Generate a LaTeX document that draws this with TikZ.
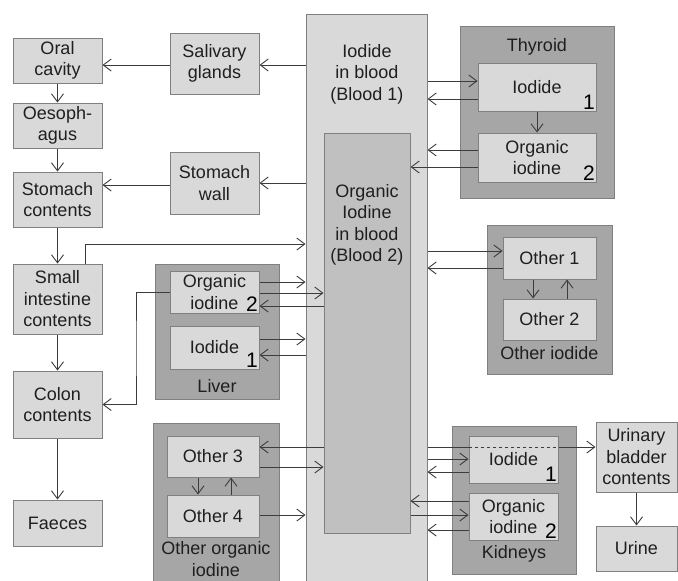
\documentclass[tikz,border=0pt]{standalone}
\usepackage{fontspec}
\setmainfont{Liberation Sans}
\usepackage{tikz}
\usetikzlibrary{calc,arrows.meta}
\definecolor{boxlight}{RGB}{217, 217, 217}
\definecolor{boxmid}{RGB}{192, 192, 192}
\definecolor{boxdark}{RGB}{166, 166, 166}
\definecolor{edgegray}{RGB}{128, 128, 128}
\definecolor{linegray}{RGB}{60, 60, 60}

\begin{document}
\begin{tikzpicture}[x=1pt,y=-1pt,
  box/.style={draw=edgegray, fill=boxlight, line width=1pt, align=center, inner sep=0pt,
    text=black!88, font=\fontsize{18}{21.5}\selectfont},
  group/.style={draw=edgegray, fill=boxdark, line width=1pt, inner sep=0pt},
  lbl/.style={align=center, inner sep=0pt, text=black!88, font=\fontsize{18}{21.5}\selectfont},
  num/.style={anchor=south east, inner sep=1.5pt, text=black, font=\fontsize{21}{21}\selectfont},
  arr/.style={draw=linegray, line width=0.9pt, -{Straight Barb[length=8pt,width=12pt]}},
  link/.style={draw=linegray, line width=0.9pt}]
\clip (0,0) rectangle (678,581);

% Group boxes
\node[group, minimum width=154, minimum height=172] (thyroid) at (537,112) {};
\node[lbl] (thyroidtxt) at (537,47) {Thyroid};

\node[group, minimum width=125, minimum height=149] (othiod) at (549.5,299.5) {};
\node[lbl] (othiodtxt) at (549.5,353) {Other iodide};

\node[group, minimum width=124, minimum height=135] (liver) at (217,331.5) {};
\node[lbl] (livertxt) at (217,386) {Liver};

\node[group, minimum width=126, minimum height=172] (othorg) at (216,509) {};
\node[lbl] (othorgtxt) at (216,559) {Other organic\\iodine};

\node[group, minimum width=124, minimum height=148] (kidneys) at (514,500) {};
\node[lbl] (kidneystxt) at (514,554) {Kidneys};

% Blood
\node[box, minimum width=121, minimum height=581] (blood1) at (366.5,304.5) {};
\node[lbl] (blood1txt) at (367,74) {Iodide\\in blood\\(Blood 1)};
\node[box, fill=boxmid, minimum width=86, minimum height=400] (blood2) at (367,333) {};
\node[lbl] (blood2txt) at (367,225) {Organic\\Iodine\\in blood\\(Blood 2)};

% Gut
\node[box, minimum width=89, minimum height=45] (oral) at (57.5,60.5) {Oral\\cavity};
\node[box, minimum width=89, minimum height=45] (oeso) at (57.5,125.5) {Oesoph-\\agus};
\node[box, minimum width=89, minimum height=55] (stomc) at (57.5,199.5) {Stomach\\contents};
\node[box, minimum width=89, minimum height=70] (smallint) at (57.5,299) {Small\\intestine\\contents};
\node[box, minimum width=89, minimum height=67] (colon) at (57.5,404.5) {Colon\\contents};
\node[box, minimum width=89, minimum height=46] (faeces) at (57.5,523) {Faeces};
\node[box, minimum width=89, minimum height=61] (saliv) at (214.5,63.5) {Salivary\\glands};
\node[box, minimum width=89, minimum height=62] (stomw) at (214.5,183) {Stomach\\wall};

% Organs
\node[box, minimum width=118, minimum height=48] (thyiod) at (537,87) {Iodide};
\node[num] (thyiodn) at (thyiod.south east) {1};
\node[box, minimum width=118, minimum height=49] (thyorg) at (537,157.5) {Organic\\iodine};
\node[num] (thyorgn) at (thyorg.south east) {2};

\node[box, minimum width=93, minimum height=42] (oth1) at (549.5,258) {Other 1};
\node[box, minimum width=93, minimum height=41] (oth2) at (549.5,319.5) {Other 2};

\node[box, minimum width=89, minimum height=42] (livorg) at (214.5,292) {Organic\\iodine};
\node[num] (livorgn) at (livorg.south east) {2};
\node[box, minimum width=89, minimum height=43] (liviod) at (214.5,347.5) {Iodide};
\node[num] (liviodn) at (liviod.south east) {1};

\node[box, minimum width=92, minimum height=41] (oth3) at (213,456.5) {Other 3};
\node[box, minimum width=92, minimum height=42] (oth4) at (213,516) {Other 4};

\node[box, minimum width=89, minimum height=47] (kidiod) at (513.5,459.5) {Iodide};
\node[num] (kidiodn) at (kidiod.south east) {1};
\node[box, minimum width=89, minimum height=47] (kidorg) at (513.5,516.5) {Organic\\iodine};
\node[num] (kidorgn) at (kidorg.south east) {2};

% Urine
\node[box, minimum width=81, minimum height=70] (bladder) at (636.5,457) {Urinary\\bladder\\contents};
\node[box, minimum width=81, minimum height=45] (urine) at (636.5,548.5) {Urine};

% Gut flows
\draw[arr] (blood1.west |- 0,65) -- (saliv.east |- 0,65);
\draw[arr] (saliv.west |- 0,65) -- (oral.east |- 0,65);
\draw[arr] (oral.south) -- (oeso.north);
\draw[arr] (oeso.south) -- (stomc.north);
\draw[arr] (blood1.west |- 0,183) -- (stomw.east |- 0,183);
\draw[arr] (stomw.west |- 0,185) -- (stomc.east |- 0,185);
\draw[arr] (stomc.south) -- (smallint.north);
\draw[arr] (smallint.north -| 85,0) |- (blood1.west |- 0,244);
\draw[arr] (smallint.south) -- (colon.north);
\draw[arr] (colon.south) -- (faeces.north);
\draw[arr] (livorg.west) -| ($(livorg.west)!0.5!(colon.east)$) |- (colon.east);

% Thyroid
\draw[arr] (blood1.east |- 0,81) -- (thyiod.west |- 0,81);
\draw[arr] (thyiod.west |- 0,99) -- (blood1.east |- 0,99);
\draw[arr] (thyiod.south) -- (thyorg.north);
\draw[arr] (thyorg.west |- 0,150) -- (blood1.east |- 0,150);
\draw[arr] (thyorg.west |- 0,167) -- (blood2.east |- 0,167);

% Other iodide
\draw[arr] (blood1.east |- 0,251) -- (oth1.west |- 0,251);
\draw[arr] (oth1.west |- 0,268) -- (blood1.east |- 0,268);
\draw[arr] (oth1.south -| 533,0) -- (oth2.north -| 533,0);
\draw[arr] (oth2.north -| 567,0) -- (oth1.south -| 567,0);

% Liver
\draw[arr] (livorg.east |- 0,282) -- (blood1.west |- 0,282);
\draw[arr] (livorg.east |- 0,293) -- (blood2.west |- 0,293);
\draw[arr] (blood2.west |- 0,306) -- (livorg.east |- 0,306);
\draw[arr] (liviod.east |- 0,339) -- (blood1.west |- 0,339);
\draw[arr] (blood1.west |- 0,355) -- (liviod.east |- 0,355);

% Other organic iodine
\draw[arr] (blood2.west |- 0,447) -- (oth3.east |- 0,447);
\draw[arr] (oth3.east |- 0,467) -- (blood2.west |- 0,467);
\draw[arr] (oth3.south -| 198,0) -- (oth4.north -| 198,0);
\draw[arr] (oth4.north -| 231,0) -- (oth3.south -| 231,0);
\draw[arr] (oth4.east |- 0,515) -- (blood1.west |- 0,515);

% Kidneys
\draw[link] (blood1.east |- 0,447) -- (kidiod.west |- 0,447);
\draw[link, dashed] (kidiod.west |- 0,447) -- (kidiod.east |- 0,447);
\draw[arr] (kidiod.east |- 0,447) -- (bladder.west |- 0,447);
\draw[arr] (blood1.east |- 0,459) -- (kidiod.west |- 0,459);
\draw[arr] (kidiod.west |- 0,472) -- (blood1.east |- 0,472);
\draw[arr] (kidorg.west |- 0,501) -- (blood2.east |- 0,501);
\draw[arr] (blood2.east |- 0,515) -- (kidorg.west |- 0,515);
\draw[arr] (kidorg.west |- 0,530) -- (blood1.east |- 0,530);
\draw[arr] (bladder.south) -- (urine.north);
\end{tikzpicture}
\end{document}
